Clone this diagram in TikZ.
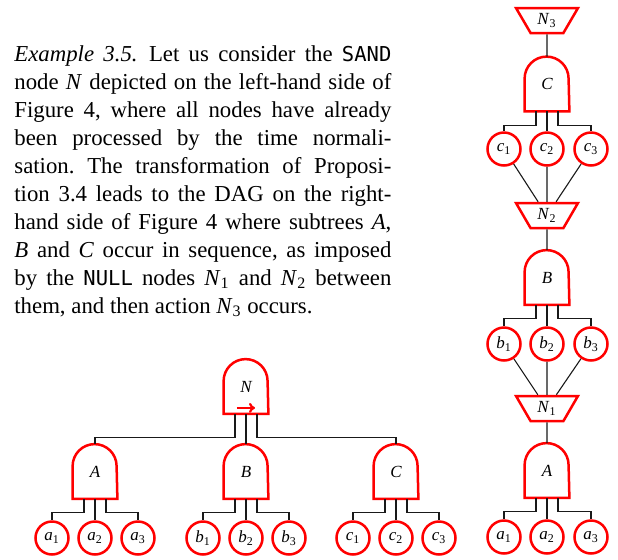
\documentclass[tikz,border=0pt]{standalone}
\usepackage{fontspec}
\setmainfont{Liberation Serif}
\newfontfamily\codefont[Scale=0.9]{DejaVu Sans Mono}
\usetikzlibrary{shapes.geometric,arrows.meta}

\newcommand{\nsub}[2]{\textit{#1}\textsubscript{\upshape #2}}

\tikzset{
  wire/.style={draw=black!90, line width=0.55pt},
  gate/.style={inner sep=0pt, minimum width=22pt, minimum height=27pt,
    font=\fontsize{8.5}{10}\selectfont\itshape,
    append after command={\pgfextra{\draw[red, line width=1.25pt]
      (\tikzlastnode.south west) -- ([yshift=-11pt]\tikzlastnode.north west)
      arc[start angle=180, end angle=0, radius=11pt]
      -- (\tikzlastnode.south east) -- cycle;}}},
  leaf/.style={circle, draw=red, line width=1.25pt, minimum size=16.5pt,
    inner sep=0pt, font=\fontsize{8.5}{10}\selectfont},
  null/.style={trapezium, trapezium angle=58, shape border rotate=180,
    trapezium stretches=true, draw=red, line width=1.25pt,
    minimum width=31pt, minimum height=12.5pt, inner sep=0pt,
    font=\fontsize{8.5}{10}\selectfont},
  sandarrow/.style={red, line width=1.1pt, -{To[length=3pt,width=5pt]}},
  desc/.style={text width=188.5pt, align=justify, inner sep=0pt,
    font=\fontsize{11.4}{14}\selectfont}
}

\begin{document}
\begin{tikzpicture}[x=0.5pt,y=-0.5pt]
  \useasboundingbox (0,0) rectangle (618,559);

  % text of the example
  \node[desc, anchor=base west] (para) at (14,61) {\tolerance=10000\frenchspacing
    \textit{Example 3.5.}\enspace Let us consider the {\codefont SAND}\linebreak
    node \textit{N} depicted on the left-hand side of\linebreak
    Figure 4, where all nodes have already\linebreak
    been processed by the time normali-\linebreak
    sation. The transformation of Proposi-\linebreak
    tion 3.4 leads to the DAG on the right-\linebreak
    hand side of Figure 4 where subtrees \textit{A},\linebreak
    \textit{B} and \textit{C} occur in sequence, as imposed\linebreak
    by the {\codefont NULL} nodes \nsub{N}{1} and \nsub{N}{2} between\linebreak
    them, and then action \nsub{N}{3} occurs.};

  % SAND tree
  \node[gate] (tN) at (246,386.5) {N\\[9pt]};
  \node[gate] (tA) at (95,471.5)  {A};
  \node[gate] (tB) at (246,471.5) {B};
  \node[gate] (tC) at (396,471.5) {C};
  \node[leaf] (ta1) at (52,538)  {\nsub{a}{1}};
  \node[leaf] (ta2) at (95,538)  {\nsub{a}{2}};
  \node[leaf] (ta3) at (138,538) {\nsub{a}{3}};
  \node[leaf] (tb1) at (203,538) {\nsub{b}{1}};
  \node[leaf] (tb2) at (246,538) {\nsub{b}{2}};
  \node[leaf] (tb3) at (289,538) {\nsub{b}{3}};
  \node[leaf] (tc1) at (353,538) {\nsub{c}{1}};
  \node[leaf] (tc2) at (396,538) {\nsub{c}{2}};
  \node[leaf] (tc3) at (439,538) {\nsub{c}{3}};

  \draw[sandarrow] ([xshift=-4.5pt,yshift=3pt]tN.south) -- ++(18,0);
  \draw[wire] ([xshift=-5.5pt]tN.south) -- ++(0,24) -| (tA);
  \draw[wire] (tN) -- (tB);
  \draw[wire] ([xshift=5.5pt]tN.south) -- ++(0,24) -| (tC);

  \foreach \g/\l in {A/a,B/b,C/c} {
    \draw[wire] ([xshift=-5.5pt]t\g.south) -- ++(0,14) -| (t\l1);
    \draw[wire] (t\g) -- (t\l2);
    \draw[wire] ([xshift=5.5pt]t\g.south) -- ++(0,14) -| (t\l3);
  }

  % sequential DAG
  \node[null] (dN3) at (547,20.5)  {\nsub{N}{3}};
  \node[gate] (dC)  at (547,84)    {C};
  \node[leaf] (dc1) at (504,149)   {\nsub{c}{1}};
  \node[leaf] (dc2) at (547,149)   {\nsub{c}{2}};
  \node[leaf] (dc3) at (591,149)   {\nsub{c}{3}};
  \node[null] (dN2) at (547,215.5) {\nsub{N}{2}};
  \node[gate] (dB)  at (547,277.5) {B};
  \node[leaf] (db1) at (504,344)   {\nsub{b}{1}};
  \node[leaf] (db2) at (547,344)   {\nsub{b}{2}};
  \node[leaf] (db3) at (591,344)   {\nsub{b}{3}};
  \node[null] (dN1) at (547,408.5) {\nsub{N}{1}};
  \node[gate] (dA)  at (547,470.5) {A};
  \node[leaf] (da1) at (504,537)   {\nsub{a}{1}};
  \node[leaf] (da2) at (547,537)   {\nsub{a}{2}};
  \node[leaf] (da3) at (591,537)   {\nsub{a}{3}};

  \draw[wire] (dN3) -- (dC);
  \draw[wire] (dN2) -- (dB);
  \draw[wire] (dN1) -- (dA);

  \foreach \g/\l in {A/a,B/b,C/c} {
    \draw[wire] ([xshift=-5.5pt]d\g.south) -- ++(0,14) -| (d\l1);
    \draw[wire] (d\g) -- (d\l2);
    \draw[wire] ([xshift=5.5pt]d\g.south) -- ++(0,14) -| (d\l3);
  }
  \foreach \l/\n in {c/N2,b/N1}
    \foreach \i in {1,2,3}
      \draw[wire] (d\l\i) -- (d\n);

\end{tikzpicture}
\end{document}
